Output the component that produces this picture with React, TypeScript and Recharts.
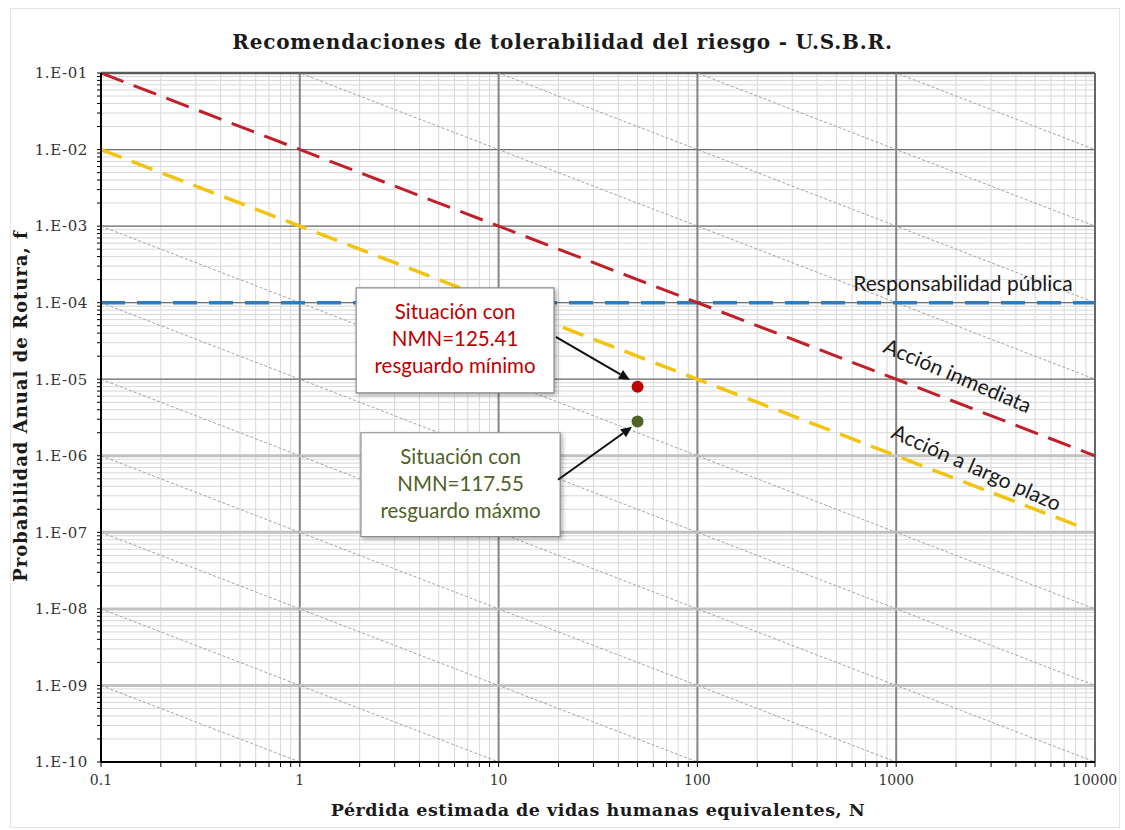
import React from "react";
import {
  ComposedChart,
  Line,
  Scatter,
  XAxis,
  YAxis,
  CartesianGrid,
  ReferenceLine,
  ReferenceArea,
  ReferenceDot,
} from "recharts";

// axis ticks
const X_DECADES = [0.1, 1, 10, 100, 1000];
const Y_EXPONENTS = [-10, -9, -8, -7, -6, -5, -4, -3, -2];
const MULTIPLIERS = [1, 2, 3, 4, 5, 6, 7, 8, 9];
const X_MAJOR = [1, 10, 100, 1000];
const Y_MAJOR_DARK = [1e-2, 1e-3, 1e-4, 1e-5];
const Y_MAJOR_LIGHT = [1e-6, 1e-7, 1e-8, 1e-9];

const X_TICKS = [
  ...X_DECADES.flatMap((d) => MULTIPLIERS.map((m) => Number((m * d).toPrecision(3)))),
  10000,
];
const Y_TICKS = [
  ...Y_EXPONENTS.flatMap((e) => MULTIPLIERS.map((m) => Number(`${m}e${e}`))),
  0.1,
];

// USBR criteria lines
const ACCION_INMEDIATA = [
  { n: 0.1, f: 1e-1 },
  { n: 10000, f: 1e-6 },
];
const ACCION_LARGO_PLAZO = [
  { n: 0.1, f: 1e-2 },
  { n: 9000, f: 1.11e-7 },
];
const RESPONSABILIDAD_PUBLICA = [
  { n: 0.1, f: 1e-4 },
  { n: 10000, f: 1e-4 },
];

// iso-risk guide lines: f at N = 0.1 and at N = 10000
const GUIDE_START_F = [1e-9, 1e-8, 1e-7, 1e-6, 1e-5, 1e-4, 1e-3, 1, 10, 100, 1000];
const GUIDE_END_F = [1e-14, 1e-13, 1e-12, 1e-11, 1e-10, 1e-9, 1e-8, 1e-5, 1e-4, 1e-3, 1e-2];

// situations
const SIT_MINIMO = [{ n: 50, f: 8e-6 }];
const SIT_MAXIMO = [{ n: 50, f: 2.8e-6 }];

// annotation boxes (data coords)
const BOX_MINIMO = { n1: 1.92, n2: 19, f1: 1.56e-4, f2: 6.64e-6 };
const BOX_MAXIMO = { n1: 2.03, n2: 20.4, f1: 2.0e-6, f2: 8.8e-8 };
const TEXT_MINIMO = ["Situación con", "NMN=125.41", "resguardo mínimo"];
const TEXT_MAXIMO = ["Situación con", "NMN=117.55", "resguardo máxmo"];
const ARROW_MINIMO = [
  { n: 19.4, f: 3.57e-5 },
  { n: 45.8, f: 9.8e-6 },
];
const ARROW_MAXIMO = [
  { n: 19.9, f: 4.87e-7 },
  { n: 46.9, f: 2.39e-6 },
];

const RED = "#C0202A";
const YELLOW = "#F2C40F";
const BLUE = "#2F7BC0";
const DARK_RED = "#C00000";
const OLIVE = "#4F6228";

const isDecade = (v: number) => {
  const e = Math.round(Math.log10(v));
  return Math.abs(v - Math.pow(10, e)) / v < 1e-9;
};

const fmtY = (v: number) => {
  if (!isDecade(v)) return "";
  const e = Math.round(Math.log10(v));
  return `1.E-${String(-e).padStart(2, "0")}`;
};

const fmtX = (v: number) => (isDecade(v) ? String(v) : "");

const Arrow = (props: any) => {
  const { x1, y1, x2, y2 } = props;
  const a = Math.atan2(y2 - y1, x2 - x1);
  const hl = 11;
  const hw = 5;
  const bx = x2 - hl * Math.cos(a);
  const by = y2 - hl * Math.sin(a);
  const px = -Math.sin(a) * hw;
  const py = Math.cos(a) * hw;
  return (
    <g>
      <line x1={x1} y1={y1} x2={bx} y2={by} stroke="#111" strokeWidth={2} />
      <polygon
        points={`${x2},${y2} ${bx + px},${by + py} ${bx - px},${by - py}`}
        fill="#111"
      />
    </g>
  );
};

const dot = (color: string) => (props: any) =>
  <circle cx={props.cx} cy={props.cy} r={6} fill={color} />;

const boxLabel = (lines: string[], color: string) => (props: any) => {
  const { x, y, width, height } = props.viewBox;
  const cx = x + width / 2;
  const cy = y + height / 2;
  const lh = 27;
  return (
    <g>
      {lines.map((t, i) => (
        <text
          key={i}
          x={cx}
          y={cy + (i - 1) * lh - 2}
          textAnchor="middle"
          dominantBaseline="central"
          fill={color}
          fontSize={20.5}
          fontFamily="Lato"
        >
          {t}
        </text>
      ))}
    </g>
  );
};

const textLabel = (t: string, angle: number) => (props: any) => {
  const { x, y } = props.viewBox;
  return (
    <text
      x={x}
      y={y}
      transform={`rotate(${angle} ${x} ${y})`}
      textAnchor="middle"
      dominantBaseline="central"
      fill="#1a1a1a"
      fontSize={21}
      fontFamily="Lato"
    >
      {t}
    </text>
  );
};

export default function App() {
  return (
    <div style={{ position: "absolute", left: 0, top: 0, width: 1125, height: 830, background: "#fff" }}>
      <div
        style={{
          position: "absolute",
          left: 10,
          top: 8,
          width: 1110,
          height: 820,
          border: "1px solid #e4e4e4",
          boxSizing: "border-box",
        }}
      />
      <div
        style={{
          position: "absolute",
          left: 0,
          top: 31,
          width: 1125,
          textAlign: "center",
          fontFamily: "DejaVu Serif",
          fontWeight: "bold",
          fontSize: 20,
          letterSpacing: 0.8,
          lineHeight: "22px",
          color: "#1a1a1a",
        }}
      >
        Recomendaciones de tolerabilidad del riesgo - U.S.B.R.
      </div>
      <div
        style={{
          position: "absolute",
          left: 101,
          width: 994,
          top: 799,
          textAlign: "center",
          fontFamily: "DejaVu Serif",
          fontWeight: "bold",
          fontSize: 17.5,
          letterSpacing: 0.5,
          lineHeight: "22px",
          color: "#1a1a1a",
        }}
      >
        Pérdida estimada de vidas humanas equivalentes, N
      </div>
      <div
        style={{
          position: "absolute",
          left: 21 - 250,
          top: 406 - 11,
          width: 500,
          textAlign: "center",
          transform: "rotate(-90deg)",
          fontFamily: "DejaVu Serif",
          fontWeight: "bold",
          fontSize: 18,
          letterSpacing: 1,
          lineHeight: "22px",
          color: "#1a1a1a",
        }}
      >
        Probabilidad Anual de Rotura, f
      </div>
      <div style={{ position: "absolute", left: 0, top: 0 }}>
        <ComposedChart
          width={1125}
          height={830}
          margin={{ top: 73, right: 30, bottom: 38, left: 6 }}
        >
          <CartesianGrid stroke="#d8d8d8" strokeWidth={1} />
          <XAxis
            dataKey="n"
            type="number"
            scale="log"
            domain={[0.1, 10000]}
            allowDataOverflow
            ticks={X_TICKS}
            interval={0}
            tickFormatter={fmtX}
            height={30}
            tickSize={5}
            tickMargin={8}
            tick={{ fill: "#333", fontSize: 14, fontFamily: "DejaVu Serif" }}
            tickLine={{ stroke: "#000" }}
            axisLine={{ stroke: "#000", strokeWidth: 2 }}
          />
          <YAxis
            dataKey="f"
            type="number"
            scale="log"
            domain={[1e-10, 1e-1]}
            allowDataOverflow
            ticks={Y_TICKS}
            interval={0}
            tickFormatter={fmtY}
            width={95}
            tickSize={4}
            tickMargin={9}
            tick={{ fill: "#333", fontSize: 15, fontFamily: "DejaVu Serif", letterSpacing: 0.6 }}
            tickLine={{ stroke: "#000" }}
            axisLine={{ stroke: "#000", strokeWidth: 2 }}
          />

          {X_MAJOR.map((v) => (
            <ReferenceLine key={`xm${v}`} x={v} stroke="#858585" strokeWidth={2} zIndex={-90} />
          ))}
          {Y_MAJOR_DARK.map((v) => (
            <ReferenceLine key={`yd${v}`} y={v} stroke="#6e6e6e" strokeWidth={1.3} zIndex={-90} />
          ))}
          {Y_MAJOR_LIGHT.map((v) => (
            <ReferenceLine key={`yl${v}`} y={v} stroke="#c2c2c2" strokeWidth={3} zIndex={-90} />
          ))}
          <ReferenceLine y={0.1} stroke="#5a5a5a" strokeWidth={2.5} zIndex={-85} />
          <ReferenceLine x={10000} stroke="#666" strokeWidth={2} zIndex={-85} />

          {GUIDE_START_F.map((f0, i) => (
            <ReferenceLine
              key={`g${i}`}
              segment={[
                { x: 0.1, y: f0 },
                { x: 10000, y: GUIDE_END_F[i] },
              ]}
              ifOverflow="hidden"
              stroke="#a3a3a3"
              strokeWidth={1}
              strokeDasharray="3 2"
              zIndex={-80}
            />
          ))}

          <Line
            data={RESPONSABILIDAD_PUBLICA}
            dataKey="f"
            stroke={BLUE}
            strokeWidth={3.5}
            strokeDasharray="24 12"
            dot={false}
            activeDot={false}
            isAnimationActive={false}
          />
          <Line
            data={ACCION_LARGO_PLAZO}
            dataKey="f"
            stroke={YELLOW}
            strokeWidth={3.5}
            strokeDasharray="22 11"
            dot={false}
            activeDot={false}
            isAnimationActive={false}
          />
          <Line
            data={ACCION_INMEDIATA}
            dataKey="f"
            stroke={RED}
            strokeWidth={3}
            strokeDasharray="24 11"
            dot={false}
            activeDot={false}
            isAnimationActive={false}
          />
          <Scatter data={SIT_MINIMO} dataKey="f" shape={dot(DARK_RED)} isAnimationActive={false} />
          <Scatter data={SIT_MAXIMO} dataKey="f" shape={dot(OLIVE)} isAnimationActive={false} />

          <ReferenceArea
            x1={BOX_MINIMO.n1}
            x2={BOX_MINIMO.n2}
            y1={BOX_MINIMO.f1}
            y2={BOX_MINIMO.f2}
            fill="#fff"
            fillOpacity={1}
            stroke="#8c8c8c"
            strokeWidth={1.2}
            style={{ filter: "drop-shadow(2px 2px 2px rgba(0,0,0,0.3))" }}
            zIndex={700}
            label={boxLabel(TEXT_MINIMO, DARK_RED)}
          />
          <ReferenceArea
            x1={BOX_MAXIMO.n1}
            x2={BOX_MAXIMO.n2}
            y1={BOX_MAXIMO.f1}
            y2={BOX_MAXIMO.f2}
            fill="#fff"
            fillOpacity={1}
            stroke="#8c8c8c"
            strokeWidth={1.2}
            style={{ filter: "drop-shadow(2px 2px 2px rgba(0,0,0,0.3))" }}
            zIndex={700}
            label={boxLabel(TEXT_MAXIMO, OLIVE)}
          />
          <ReferenceLine
            segment={[
              { x: ARROW_MINIMO[0].n, y: ARROW_MINIMO[0].f },
              { x: ARROW_MINIMO[1].n, y: ARROW_MINIMO[1].f },
            ]}
            shape={Arrow}
            zIndex={800}
          />
          <ReferenceLine
            segment={[
              { x: ARROW_MAXIMO[0].n, y: ARROW_MAXIMO[0].f },
              { x: ARROW_MAXIMO[1].n, y: ARROW_MAXIMO[1].f },
            ]}
            shape={Arrow}
            zIndex={800}
          />

          <ReferenceDot
            x={2168}
            y={1.81e-4}
            r={0}
            zIndex={900}
            label={textLabel("Responsabilidad pública", 0)}
          />
          <ReferenceDot
            x={2046}
            y={1.14e-5}
            r={0}
            zIndex={900}
            label={textLabel("Acción inmediata", 23)}
          />
          <ReferenceDot
            x={2547}
            y={7.2e-7}
            r={0}
            zIndex={900}
            label={textLabel("Acción a largo plazo", 24)}
          />
        </ComposedChart>
      </div>
    </div>
  );
}
